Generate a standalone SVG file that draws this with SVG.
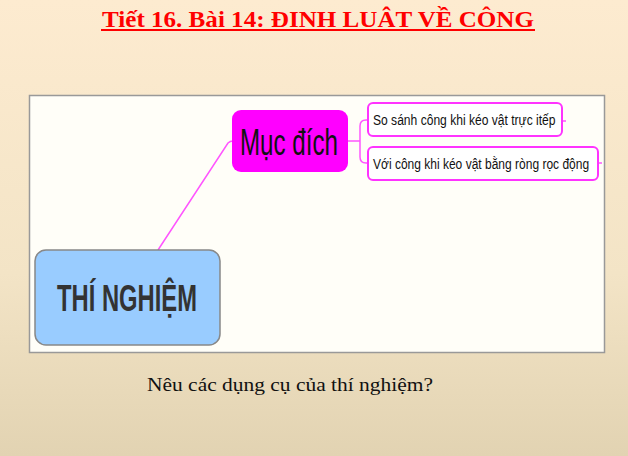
<svg xmlns="http://www.w3.org/2000/svg" width="628" height="456" viewBox="0 0 628 456">
<defs>
<linearGradient id="bg" x1="0" y1="0" x2="0" y2="1">
<stop offset="0" stop-color="#fdebd0"/>
<stop offset="0.6" stop-color="#f3e4c6"/>
<stop offset="1" stop-color="#e2d3b2"/>
</linearGradient>
<style>
.conn{fill:none;stroke:#ff55ff;stroke-width:1.5}
.leaf{fill:#ffffff;stroke:#ff33ff;stroke-width:2}
.leaft{font-family:"Liberation Sans",Arial,sans-serif;font-size:15.5px;fill:#111}
</style>
</defs>
<rect width="628" height="456" fill="url(#bg)"/>
<g id="title">
<text x="318" y="27" text-anchor="middle" font-family="'Liberation Serif','Times New Roman',serif" font-weight="bold" font-size="24" fill="#ff0000" textLength="432" lengthAdjust="spacingAndGlyphs">Tiết 16. Bài 14: ĐINH LUÂT VỀ CÔNG</text>
<line x1="101" y1="30" x2="535" y2="30" stroke="#ff0000" stroke-width="2"/>
</g>
<rect id="panel" x="29.5" y="95.5" width="575" height="257" fill="#fffef8" stroke="#999" stroke-width="1.5"/>
<g id="connectors">
<path class="conn" d="M158 250 L228 143 Q230 141 233 141"/>
<path class="conn" d="M348 141 H360"/>
<path class="conn" d="M360 141 V126 Q360 120 366 120 H369"/>
<path class="conn" d="M360 141 V157 Q360 163 366 163 H369"/>
<path class="conn" d="M562 121 H566"/>
<path class="conn" d="M598 163 H602"/>
</g>
<g id="thi-nghiem">
<rect x="35" y="250" width="185" height="95" rx="11" fill="#99ccff" stroke="#888" stroke-width="1.5"/>
<text x="127" y="311" text-anchor="middle" font-family="'Liberation Sans',Arial,sans-serif" font-weight="bold" font-size="36" fill="#333" textLength="140" lengthAdjust="spacingAndGlyphs">THÍ NGHIỆM</text>
</g>
<g id="muc-dich">
<rect x="232" y="110" width="116" height="62" rx="9" fill="#ff00ff"/>
<text x="289" y="155" text-anchor="middle" font-family="'Liberation Sans',Arial,sans-serif" font-size="36" fill="#111" textLength="98" lengthAdjust="spacingAndGlyphs">Mục đích</text>
</g>
<g id="leaf1">
<rect class="leaf" x="368" y="103" width="194" height="33" rx="5"/>
<text class="leaft" transform="translate(373,125) scale(0.78,1)">So sánh công khi kéo vật trực itếp</text>
</g>
<g id="leaf2">
<rect class="leaf" x="368" y="147" width="230" height="33" rx="5"/>
<text class="leaft" transform="translate(373,169) scale(0.775,1)">Với công khi kéo vật bằng ròng rọc động</text>
</g>
<text id="question" x="147" y="391" font-family="'Liberation Serif','Times New Roman',serif" font-size="19" fill="#111" textLength="286" lengthAdjust="spacingAndGlyphs">Nêu các dụng cụ của thí nghiệm?</text>
</svg>
